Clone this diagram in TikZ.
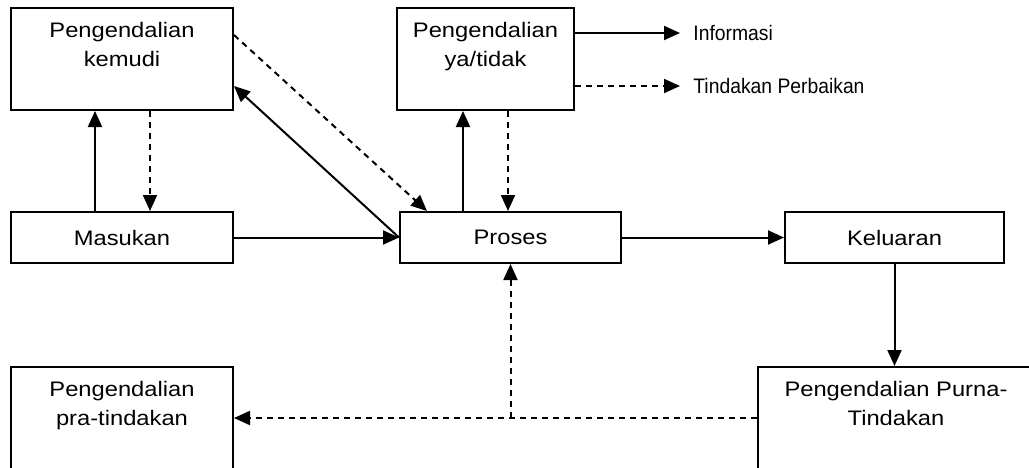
\documentclass[tikz,border=0pt]{standalone}
\usepackage{fontspec}
\setmainfont{Liberation Sans}
\newfontfamily\boxfont[FakeStretch=1.13]{Liberation Sans}
\newfontfamily\labelfont[FakeStretch=0.92]{Liberation Sans}
\usetikzlibrary{arrows.meta}
\tikzset{
    mybox/.style = {rectangle, draw=black, line width=1pt, align=center, inner sep=0pt, font=\boxfont\fontsize{10.5}{14.5}\selectfont},
    mybigbox/.style = {mybox, minimum height=51pt, minimum width=111pt},
    mysmallbox/.style = {mybox, minimum height=25.5pt, minimum width=111pt},
    mylabel/.style = {anchor=west, inner xsep=6.5pt, inner ysep=0pt, font=\labelfont\fontsize{10.5}{12}\selectfont},
    edgen/.style = {-{Triangle[length=8pt,width=7pt]}, line width=1pt},
    edged/.style = {edgen, dash pattern=on 3pt off 2.5pt}, % dashed
}
\begin{document}
\begin{tikzpicture}[x=0.5pt,y=-0.5pt]
  \clip (0,0) rectangle (1029,467);
  \node[mybigbox] at (122,59) (kemudi) {Pengendalian\\kemudi\\\mbox{}};
  \node[mybigbox, minimum width=88.5pt] at (485.5,59) (yatidak) {Pengendalian\\ya/tidak\\\mbox{}};
  \node[mysmallbox] at (122,237.5) (masukan) {Masukan};
  \node[mysmallbox, minimum width=110.5pt] at (510.5,237.5) (proses) {Proses};
  \node[mysmallbox, minimum width=109.5pt] at (894.5,237.5) (keluaran) {Keluaran};
  \node[mybigbox] at (122,418) (pra) {Pengendalian\\pra-tindakan\\\mbox{}};
  \node[mybigbox, minimum width=138pt] at (896,418) (purna) {Pengendalian Purna-\\Tindakan\\\mbox{}};
  \node[mylabel] at (680,33) (info) {Informasi};
  \node[mylabel] at (680,86) (perbaikan) {Tindakan Perbaikan};

  \draw[edgen] ([xshift=-13.5pt]masukan.north) -- ([xshift=-13.5pt]kemudi.south);
  \draw[edged] ([xshift=14pt]kemudi.south) -- ([xshift=14pt]masukan.north);
  \draw[edgen] (proses.west) -- ([yshift=-13.5pt]kemudi.east);
  \draw[edged] ([yshift=12pt]kemudi.east) -- ([xshift=-41.75pt]proses.north);
  \draw[edgen] (masukan) -- (proses);
  \draw[edgen] ([xshift=-23.75pt]proses.north) -- ([xshift=-23.75pt]proses.north |- yatidak.south);
  \draw[edged] ([xshift=11.25pt]yatidak.south) -- ([xshift=11.25pt]yatidak.south |- proses.north);
  \draw[edgen] (yatidak.east |- info.west) -- (info.west);
  \draw[edged] (yatidak.east |- perbaikan.west) -- (perbaikan.west);
  \draw[edgen] (proses) -- (keluaran);
  \draw[edgen] (keluaran) -- (keluaran |- purna.north);
  \coordinate (cabang) at (proses.south |- purna.west);
  \draw[edged] (purna.west) -- (pra.east);
  \draw[edged] (cabang) -- (proses.south);
\end{tikzpicture}
\end{document}
